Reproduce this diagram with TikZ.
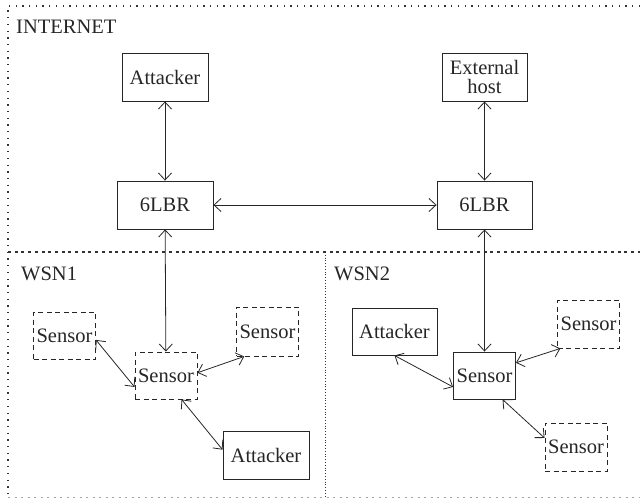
\documentclass[tikz,border=0pt]{standalone}
\usepackage{fontspec}
\setmainfont{Liberation Serif}
\usetikzlibrary{arrows.meta}

\begin{document}
\begin{tikzpicture}[x=1pt, y=-1pt,
		every node/.style={font=\fontsize{20.5}{22}\selectfont, text=black!85, inner sep=1pt},
		hostbox/.style={draw=black!85, line width=0.9pt, minimum width=#1, minimum height=48},
		hostbox/.default=86,
		sensbox/.style={hostbox=62, dash pattern=on 5pt off 3.5pt},
		zone/.style={draw=black!80, line width=1.1pt, dash pattern=on 1.3pt off 5.4pt},
		link/.style={{Straight Barb[length=7pt,width=13pt]}-{Straight Barb[length=7pt,width=13pt]}, line width=0.8pt, draw=black!85}]
			%%%%% FRAME %%%%%
			\useasboundingbox (0, 0) rectangle (640, 498);
			
			\draw[zone] (640, 6) -- (8, 6) -- (8, 497);
			\draw[zone, dash pattern=on 3pt off 3.7pt] (8, 252) -- (640, 252);
			\draw[zone, line width=0.8pt, dash pattern=on 1pt off 1.8pt] (325, 252) -- (325, 497);
			\draw[zone, draw=black!35, line width=0.8pt, dash pattern=on 2pt off 4.5pt] (8, 497) -- (640, 497);
			
			\node[anchor=base west] (inet) at (15, 33) {INTERNET};
			\node[anchor=base west] (wsna) at (20, 280) {WSN1};
			\node[anchor=base west] (wsnb) at (333, 280) {WSN2};
			
			%%%%% INTERNET %%%%%
			\node[hostbox] (atk) at (165, 77) {Attacker};
			\node[hostbox=96] (lbra) at (165, 205) {6LBR};
			\node[hostbox=85, align=center, font=\fontsize{20.5}{19}\selectfont] (ext) at (484.5, 77) {External\\host};
			\node[hostbox=95] (lbrb) at (484.5, 205) {6LBR};
			
			\draw[link] (atk) -- (lbra);
			\draw[link] (ext) -- (lbrb);
			\draw[link] (lbra) -- (lbrb);
			
			%%%%% WSN1 %%%%%
			\node[sensbox, minimum height=47] (sna) at (64.5, 335.5) {Sensor};
			\node[sensbox, minimum height=47] (snb) at (166, 375.5) {Sensor};
			\node[sensbox=61, minimum height=49] (snc) at (267.5, 331.5) {Sensor};
			\node[hostbox] (atka) at (266, 455) {Attacker};
			
			\draw[link] (lbra) -- (snb);
			\draw[link] (sna.-8) -- (snb.200);
			\draw[link] (snb.5) -- (snc.227);
			\draw[link] (snb.-57) -- (atka.173);
			
			%%%%% WSN2 %%%%%
			\node[hostbox=85, minimum height=47] (atkb) at (394.5, 331.5) {Attacker};
			\node[hostbox=62, minimum height=47] (snd) at (484.5, 375.5) {Sensor};
			\node[sensbox=63] (sne) at (588.5, 324) {Sensor};
			\node[sensbox] (snf) at (576, 447) {Sensor};
			
			\draw[link] (lbrb) -- (snd);
			\draw[link] (atkb.south) -- (snd.200);
			\draw[link] (snd.22) -- (sne.221);
			\draw[link] (snd.-53) -- (snf.164);
\end{tikzpicture}
\end{document}
